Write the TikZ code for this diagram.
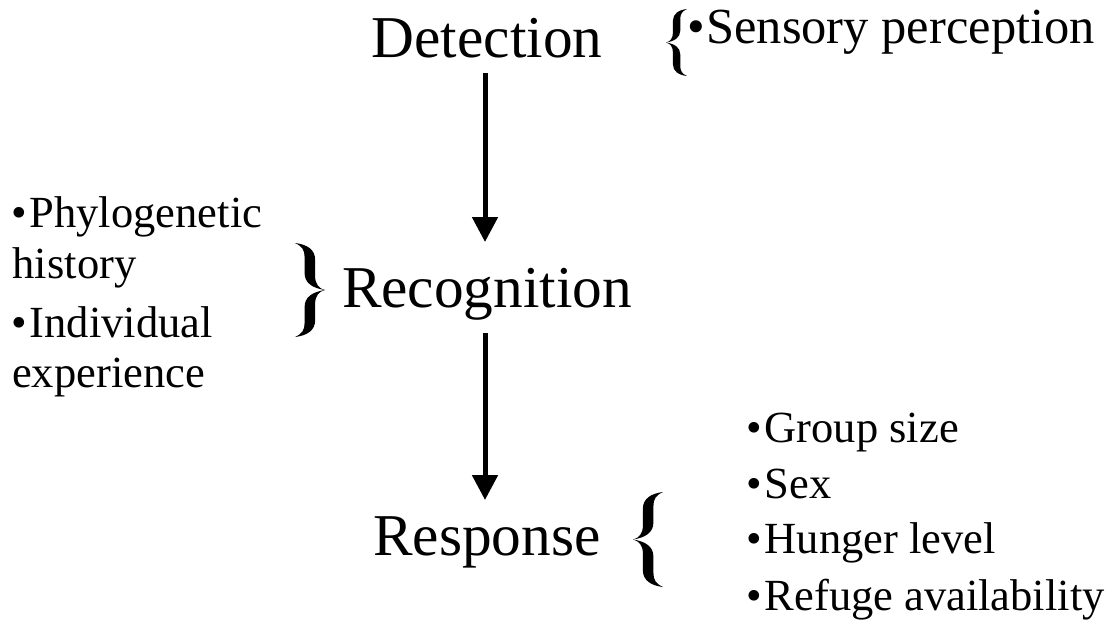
\documentclass[tikz,border=0pt]{standalone}
\usepackage{fontspec}
\setmainfont{Liberation Serif}
\usetikzlibrary{arrows.meta,calc}

\tikzset{
  stage/.style={inner sep=0pt, anchor=base, font=\fontsize{59.3}{61}\selectfont},
  item/.style={inner sep=0pt, anchor=base west, font=\fontsize{44.5}{50}\selectfont},
  flow/.style={line width=5pt, -{Triangle[width=25pt,length=25pt]}},
  % calligraphic curly brace: tip at the origin, arms reaching (1,1) and (1,-1)
  curly/.pic={
    \foreach \s in {1,-1}{
      \fill[yscale=\s] (0,0) .. controls (0.2,0.03) and (0.33,0.12) .. (0.33,0.3)
        -- (0.33,0.65)
        .. controls (0.33,0.86) and (0.6,0.97) .. (1,1)
        .. controls (0.76,0.93) and (0.68,0.85) .. (0.68,0.7)
        -- (0.68,0.36)
        .. controls (0.68,0.15) and (0.42,0.04) .. (0,0) -- cycle;
    }
  }
}

\begin{document}
\begin{tikzpicture}[x=1pt, y=-1pt]
  \useasboundingbox (0,0) rectangle (1112,641);

  % the three stages
  \node[stage] (det)  at (487,57)  {Detection};
  \node[stage] (rec)  at (487,307) {Recognition};
  \node[stage] (resp) at (487,555) {Response};

  \draw[flow] ($(det.base)+(-2,16)$) -- ($(rec.base)+(-2,-65)$);
  \draw[flow] ($(rec.base)+(-2,26)$) -- ($(resp.base)+(-2,-55)$);

  % detection factors
  \pic[xscale=21, yscale=33.5] at (666,42.5) {curly};
  \node[item, font=\fontsize{50.5}{52}\selectfont] (sens) at (687,43) {•\kern1.5pt Sensory perception};

  % recognition factors
  \pic[xscale=-30, yscale=47] at (325,290) {curly};
  \node[item] (phy)  at (11,227)   {•\kern3pt Phylogenetic};
  \node[item] (hist) at (12.5,278) {history};
  \node[item] (ind)  at (11,337)   {•\kern3pt Individual};
  \node[item] (exp)  at (12,387)   {experience};

  % response factors
  \pic[xscale=30, yscale=47.5] at (633,539.5) {curly};
  \node[item] (grp) at (746,442) {•\kern3pt Group size};
  \node[item] (sex) at (746,498) {•\kern3pt Sex};
  \node[item] (hun) at (746,553) {•\kern3pt Hunger level};
  \node[item] (ref) at (746,610) {•\kern3pt Refuge availability};
\end{tikzpicture}
\end{document}
